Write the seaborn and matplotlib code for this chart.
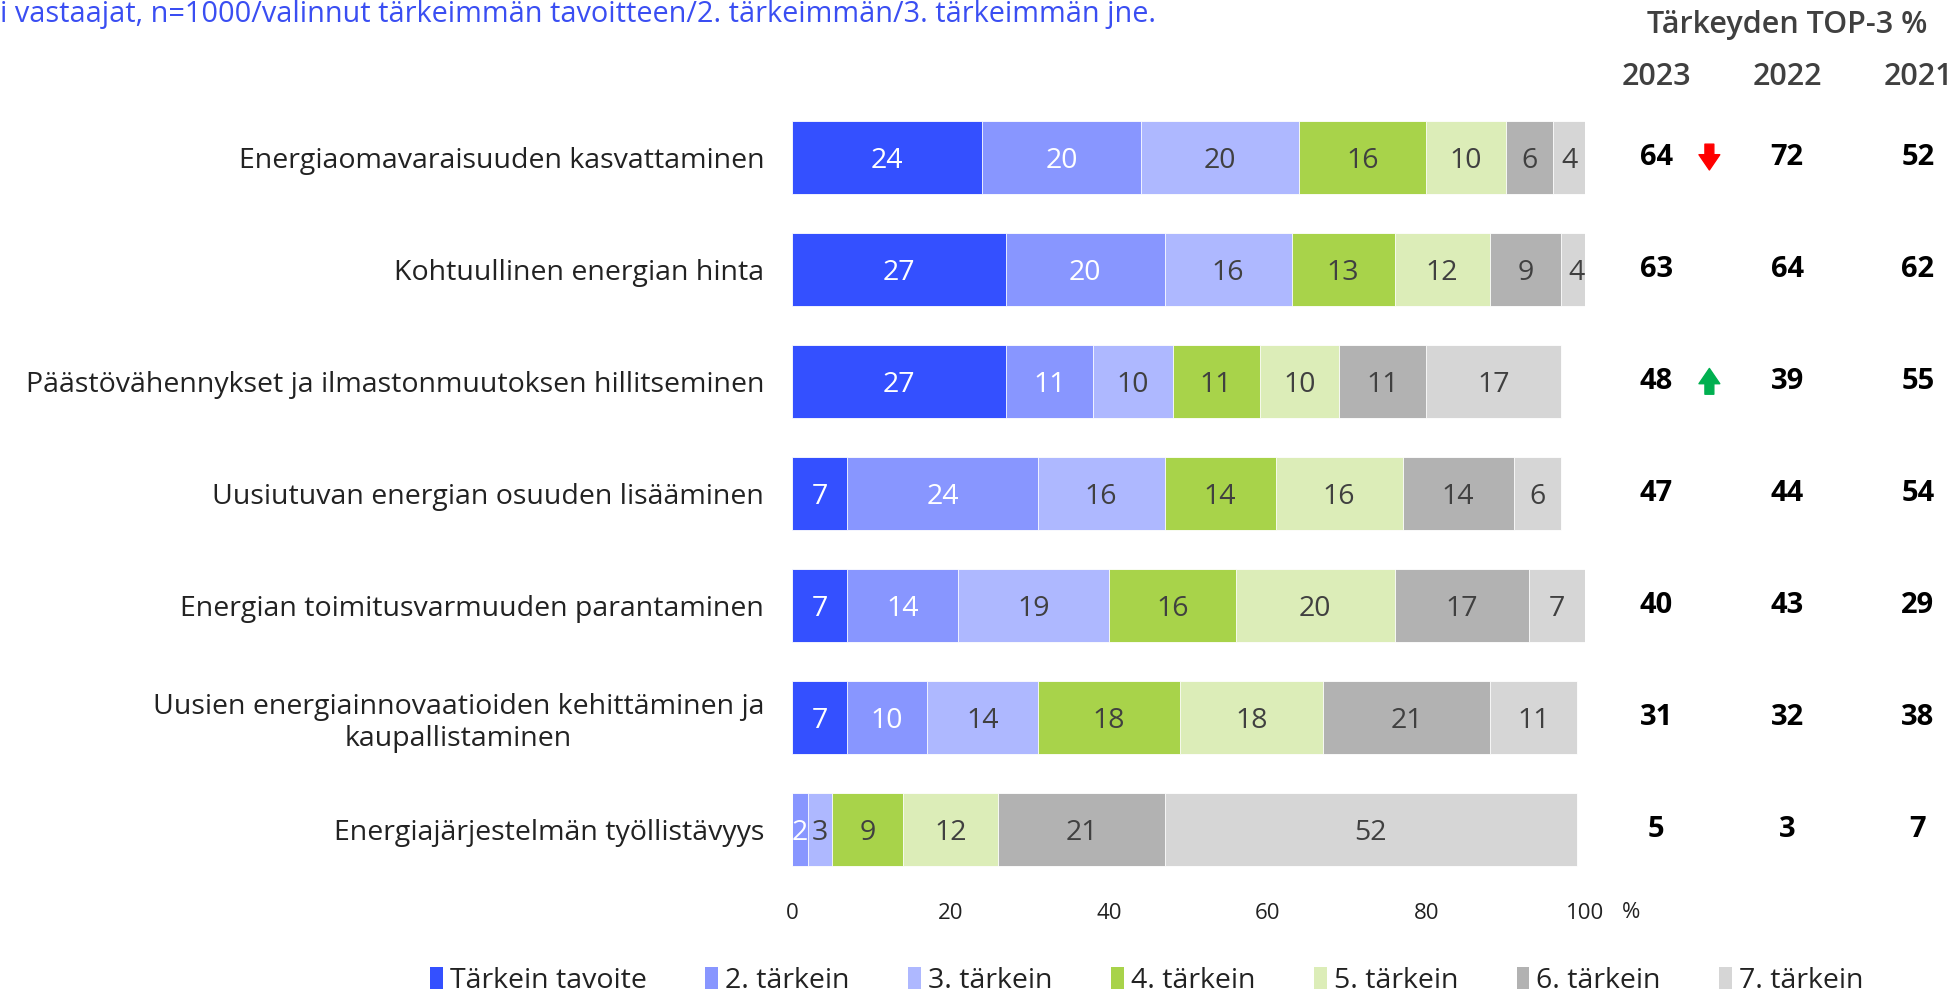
import numpy as np
import pandas as pd
import matplotlib
matplotlib.use("Agg")
import matplotlib.pyplot as plt
import seaborn as sns
from matplotlib.patches import Patch

categories = [
    "Energiaomavaraisuuden kasvattaminen",
    "Kohtuullinen energian hinta",
    "Päästövähennykset ja ilmastonmuutoksen hillitseminen",
    "Uusiutuvan energian osuuden lisääminen",
    "Energian toimitusvarmuuden parantaminen",
    "Uusien energiainnovaatioiden kehittäminen ja\nkaupallistaminen",
    "Energiajärjestelmän työllistävyys",
]
series_names = ["Tärkein tavoite", "2. tärkein", "3. tärkein", "4. tärkein",
                "5. tärkein", "6. tärkein", "7. tärkein"]
rank1 = [24, 27, 27, 7, 7, 7, 0]
rank2 = [20, 20, 11, 24, 14, 10, 2]
rank3 = [20, 16, 10, 16, 19, 14, 3]
rank4 = [16, 13, 11, 14, 16, 18, 9]
rank5 = [10, 12, 10, 16, 20, 18, 12]
rank6 = [6, 9, 11, 14, 17, 21, 21]
rank7 = [4, 4, 17, 6, 7, 11, 52]
top3_2023 = [64, 63, 48, 47, 40, 31, 5]
top3_2022 = [72, 64, 39, 44, 43, 32, 3]
top3_2021 = [52, 62, 55, 54, 29, 38, 7]
change = ["down", "", "up", "", "", "", ""]
years = ["2023", "2022", "2021"]
xticks = [0, 20, 40, 60, 80, 100]

colors = ["#3450ff", "#8896ff", "#aeb8ff", "#a8d34a", "#dcedb8", "#b2b2b2", "#d6d6d6"]
text_colors = ["white", "white", "#404040", "#404040", "#404040", "#404040", "#404040"]

sns.set_theme(style="white")
plt.rcParams["font.family"] = ["Open Sans", "DejaVu Sans"]

ranks = [rank1, rank2, rank3, rank4, rank5, rank6, rank7]
df = pd.DataFrame({name: vals for name, vals in zip(series_names, ranks)})
df["cat"] = categories
cum = df[series_names].cumsum(axis=1)

fig = plt.figure(figsize=(19.54, 9.93), dpi=100)
ax = fig.add_axes([0.4053, 0.1078, 0.4058, 0.7905])

# stacked bars: draw cumulative totals from the outermost inwards
for i in range(len(series_names) - 1, -1, -1):
    sns.barplot(x=cum[series_names[i]], y=df["cat"], orient="h", color=colors[i],
                width=0.65, edgecolor="white", linewidth=0.6, saturation=1, ax=ax)

for r in range(len(categories)):
    for i, name in enumerate(series_names):
        v = df.loc[r, name]
        if v <= 0:
            continue
        xc = cum.loc[r, name] - v / 2
        ax.text(xc, r, str(v), ha="center", va="center_baseline", fontsize=20.5,
                color=text_colors[i])

ax.set_xlim(0, 100)
ax.set_ylim(6.5, -0.5)
ax.set_xticks(xticks)
ax.set_xticklabels([str(t) for t in xticks], fontsize=16, color="#222222")
ax.tick_params(axis="x", length=0, pad=12)
ax.tick_params(axis="y", length=0, pad=20)
ax.set_yticks(range(len(categories)))
ax.set_yticklabels(categories, fontsize=20.5, color="#222222", multialignment="center")
ax.set_xlabel("")
ax.set_ylabel("")
for s in ax.spines.values():
    s.set_visible(False)

ax.text(105.8, 6.74, "%", fontsize=16, color="#222222",
        ha="center", va="center", clip_on=False)

# TOP-3 table on the right
col_x = [109, 125.5, 142]
for x, yr in zip(col_x, years):
    ax.text(x, -0.71, yr, ha="center", va="center", fontsize=22, color="#404040",
            fontweight="semibold", clip_on=False)
ax.text(125.5, -1.18, "Tärkeyden TOP-3 %", ha="center", va="center", fontsize=22,
        color="#404040", fontweight="semibold", clip_on=False)
for r in range(len(categories)):
    for x, vals in zip(col_x, [top3_2023, top3_2022, top3_2021]):
        ax.text(x, r, str(vals[r]), ha="center", va="center", fontsize=21,
                color="black", fontweight="bold", clip_on=False)
    if change[r]:
        d = 0.115 if change[r] == "down" else -0.115
        ax.annotate("", xy=(115.7, r + d), xytext=(115.7, r - d),
                    arrowprops=dict(arrowstyle="simple,head_length=0.55,head_width=0.75,tail_width=0.32",
                                    color="#ff0000" if change[r] == "down" else "#00b050",
                                    mutation_scale=20, shrinkA=0, shrinkB=0),
                    annotation_clip=False)

fig.text(0.0, 0.985, "i vastaajat, n=1000/valinnut tärkeimmän tavoitteen/2. tärkeimmän/3. tärkeimmän jne.",
         ha="left", va="center", fontsize=20.8, color="#3a4ef2")

handles = [Patch(facecolor=c, edgecolor="none") for c in colors]
fig.legend(handles, series_names, loc="center", bbox_to_anchor=(0.587, 0.012), ncol=7,
           frameon=False, fontsize=20.5, handlelength=0.45, handleheight=0.8,
           handletextpad=0.25, columnspacing=2.05, labelcolor="#222222")

fig.savefig("out.png", dpi=100)
